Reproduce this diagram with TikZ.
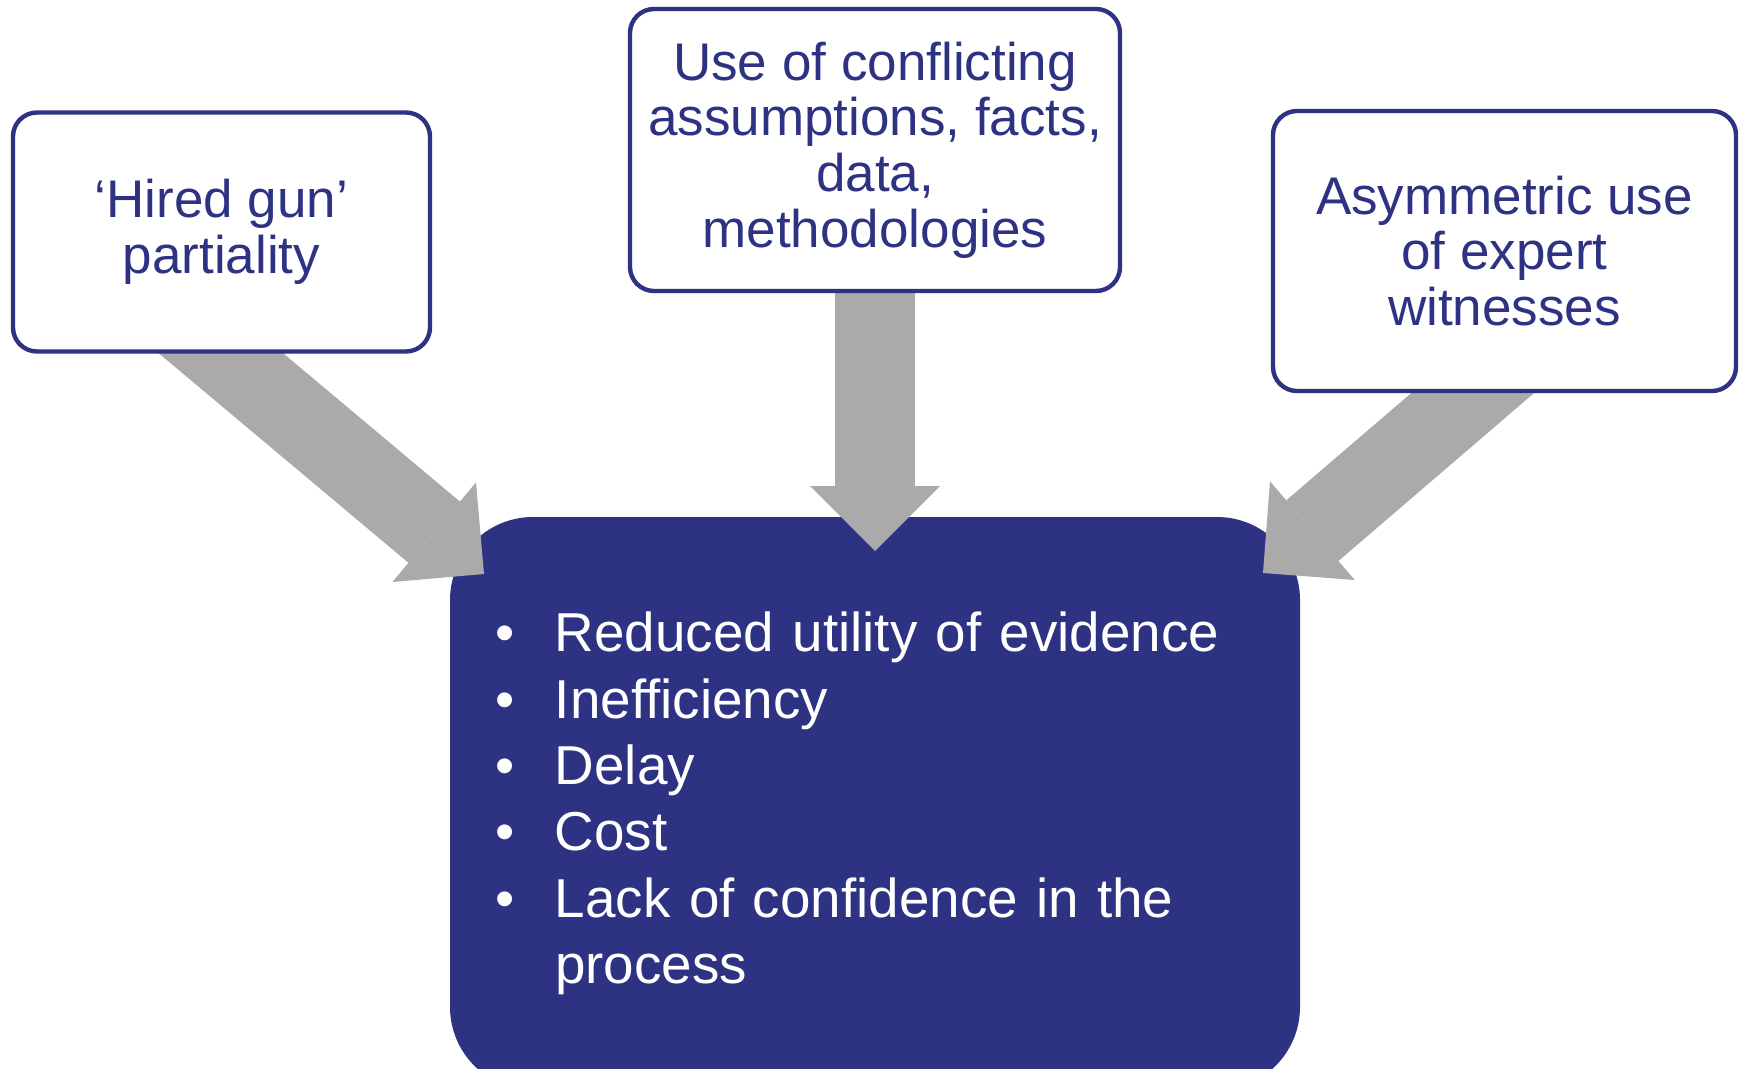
\documentclass[tikz,border=0pt]{standalone}
\usepackage{fontspec}
\setmainfont{Liberation Sans}
\usetikzlibrary{arrows.meta,calc}
\definecolor{navy}{HTML}{2E3283}
\definecolor{arrowgrey}{HTML}{AAAAAA}
\pgfdeclarelayer{background}
\pgfdeclarelayer{arrows}
\pgfsetlayers{background,arrows,main}

\begin{document}
\begin{tikzpicture}[x=0.5pt, y=-0.5pt,
	cause/.style={draw=navy, line width=2.2pt, fill=white, rounded corners=12pt, align=center, text=navy, font=\fontsize{26.5}{27.8}\selectfont, inner sep=0pt},
	effect/.style={fill=navy, rounded corners=41.5pt, text=white, align=left, font=\fontsize{27.4}{33.2}\selectfont, inner xsep=22.5pt, inner ysep=0pt, outer sep=0pt, anchor=north west},
	flow/.style={arrowgrey, line width=40pt, shorten <=-30pt, -{Triangle[width=65pt, length=32.5pt, line width=0pt]}}]
	\useasboundingbox (0,0) rectangle (1739,1069);
	\node[cause, minimum width=208.5pt, minimum height=119.5pt] (hired) at (221.5,232) {‘Hired gun’\\partiality};
	\node[cause, minimum width=245pt, minimum height=141pt] (conflict) at (875,150) {Use of conflicting\\assumptions, facts,\\data,\\methodologies};
	\node[cause, minimum width=231.5pt, minimum height=140pt] (asym) at (1504.5,251) {Asymmetric use\\of expert\\witnesses};
	\begin{pgfonlayer}{background}
	\node[effect, minimum width=425pt, minimum height=286.5pt, text width=380pt] (impact) at (450,517) {%
		\makebox[30pt][l]{\textbullet}Reduced utility of evidence\\
		\makebox[30pt][l]{\textbullet}Inefficiency\\
		\makebox[30pt][l]{\textbullet}Delay\\
		\makebox[30pt][l]{\textbullet}Cost\\
		\makebox[30pt][l]{\textbullet}Lack of confidence in the\\
		\hspace*{30pt}process};
	\end{pgfonlayer}
	\begin{pgfonlayer}{arrows}
	\draw[flow] (hired.south) -- ($(impact.north west)+(34,57)$);
	\draw[flow] (conflict.south) -- ($(impact.north)+(0,34)$);
	\draw[flow] ($(asym.south)+(-32,0)$) -- ($(impact.north east)+(-37,56)$);
	\end{pgfonlayer}
\end{tikzpicture}
\end{document}
